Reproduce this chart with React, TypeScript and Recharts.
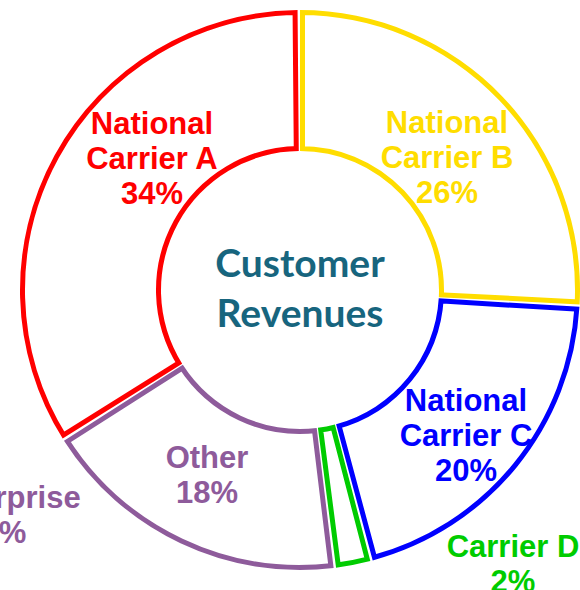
import React from "react";
import { PieChart, Pie, Cell, Sector } from "recharts";

const carriers = ["National Carrier B", "National Carrier C", "Carrier D", "Other", "Enterprise", "National Carrier A"];
const shares = [26, 20, 2, 18, 0, 34];
const colors = ["#FFDD00", "#0000FF", "#00CC00", "#8E5B9B", "#8E5B9B", "#FF0000"];

const data = carriers.map((name, i) => ({ name, value: shares[i] }));

// where each label block sits, measured from the pie centre
const labelSpots: [number, number][] = [
  [147, -133],
  [166, 145],
  [213, 273],
  [-93, 184],
  [-296, 224],
  [-148, -132],
];

const CX = 300;
const CY = 290;

// draw the outline inside the slice only, so neighbours sit side by side
const InsetSector = (props: any) => {
  const id = `clip-${Math.round(props.startAngle * 100)}-${Math.round(props.endAngle * 100)}`;
  return (
    <g>
      <defs>
        <clipPath id={id}>
          <Sector cx={props.cx} cy={props.cy} innerRadius={props.innerRadius} outerRadius={props.outerRadius}
            startAngle={props.startAngle} endAngle={props.endAngle} />
        </clipPath>
      </defs>
      <Sector cx={props.cx} cy={props.cy} innerRadius={props.innerRadius} outerRadius={props.outerRadius}
        startAngle={props.startAngle} endAngle={props.endAngle}
        fill="#fff" stroke={props.stroke} strokeWidth={10} clipPath={`url(#${id})`} />
    </g>
  );
};

const renderLabel = (props: any) => {
  const i = props.index;
  const name = carriers[i];
  const lines = name.startsWith("National ") ? ["National", name.slice(9)] : [name];
  lines.push(`${shares[i]}%`);
  const [dx, dy] = labelSpots[i];
  const x = props.cx + dx;
  const top = props.cy + dy - ((lines.length - 1) * 35) / 2;
  return (
    <text x={x} y={top} textAnchor="middle" dominantBaseline="central" fill={colors[i]}
      style={{ fontFamily: "'Liberation Sans', Arial, sans-serif", fontWeight: 700, fontSize: 31 }}>
      {lines.map((l, k) => (
        <tspan key={k} x={x} y={top + k * 35}>{l}</tspan>
      ))}
    </text>
  );
};

export default function App() {
  return (
    <div style={{ position: "absolute", left: 0, top: 0, width: 580, height: 590 }}>
      <PieChart width={580} height={590} margin={{ top: 0, right: 0, bottom: 0, left: 0 }}>
        <Pie data={data} dataKey="value" nameKey="name" cx={CX} cy={CY}
          innerRadius={139} outerRadius={280} startAngle={90} endAngle={-270}
          paddingAngle={0.5} shape={InsetSector} label={renderLabel} labelLine={false}
          isAnimationActive={false}>
          {data.map((d, i) => (
            <Cell key={d.name} fill="#fff" stroke={colors[i]} />
          ))}
        </Pie>
      </PieChart>
      <div style={{
        position: "absolute", left: CX - 130, top: CY - 53, width: 260, textAlign: "center",
        fontFamily: "Lato, 'Open Sans', sans-serif", fontWeight: 700, fontSize: 39, lineHeight: "50px",
        color: "#17657E",
      }}>
        Customer<br />Revenues
      </div>
    </div>
  );
}
